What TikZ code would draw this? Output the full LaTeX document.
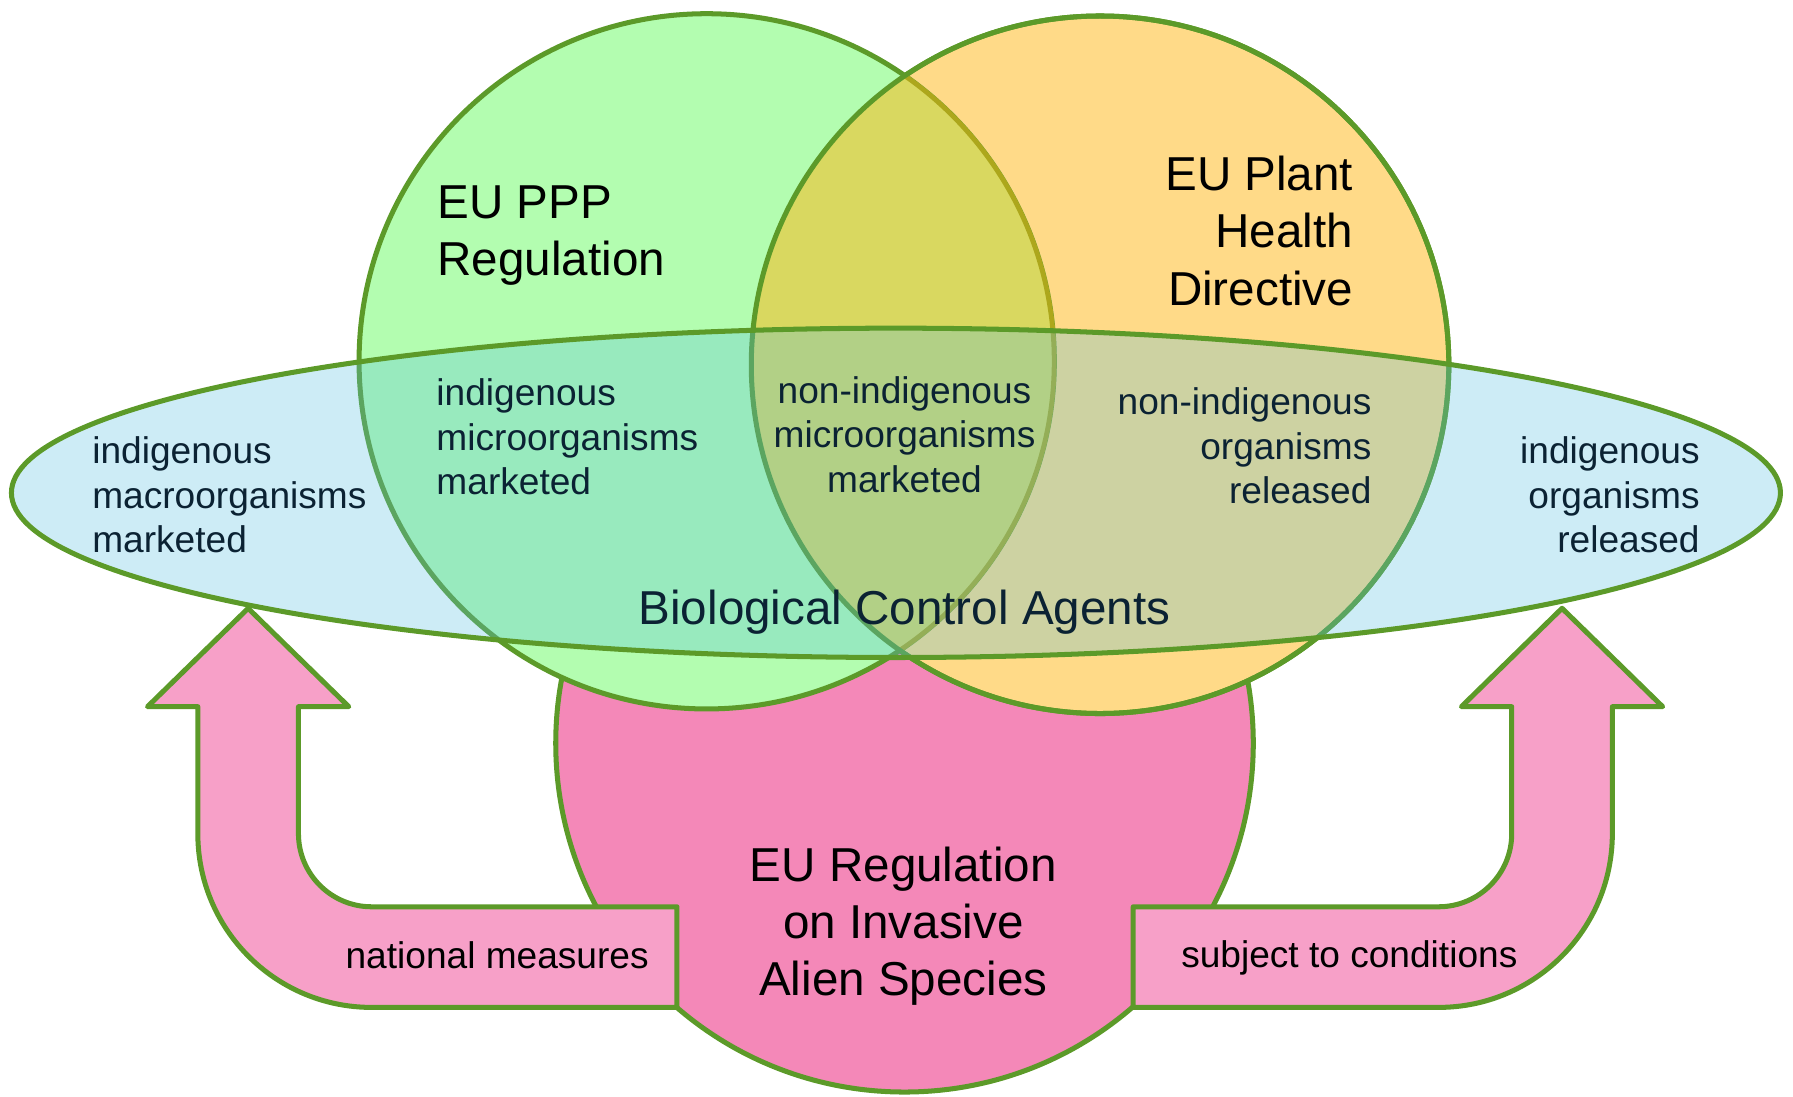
\documentclass[tikz,border=0pt]{standalone}
\usepackage{fontspec}
\setmainfont{Liberation Sans}
\usepackage{xcolor}
\usepackage{tikz}

\definecolor{rim}{HTML}{5C9A29}
\definecolor{pppgreen}{HTML}{B3FDB0}
\definecolor{phorange}{HTML}{FFDA88}
\definecolor{phdeep}{HTML}{FFB511}
\definecolor{iaspink}{HTML}{F488B8}
\definecolor{arrowpink}{HTML}{F7A0C8}
\definecolor{bcablue}{HTML}{5BC0E0}
\definecolor{navy}{HTML}{0B2233}

\begin{document}
\begin{tikzpicture}[
    rimline/.style={draw=rim, line width=1.25pt},
    bigtext/.style={inner sep=0pt, font=\fontsize{11.84}{14.2}\selectfont},
    smalltext/.style={inner sep=0pt, text=navy, font=\fontsize{9.23}{11.1}\selectfont},
    arrowtext/.style={inner sep=0pt, font=\fontsize{9.23}{11.1}\selectfont}]
    \useasboundingbox (0,0) rectangle (15.68,9.59);

    % Invasive species circle (behind)
    \filldraw[rimline, fill=iaspink] (7.91,3.09) circle (3.05);

    % Plant health and PPP circles
    \filldraw[rimline, fill=phorange] (9.62,6.40) circle (3.05);
    \filldraw[rimline, fill=pppgreen] (6.18,6.43) circle (3.04);
    \begin{scope}
        \clip (6.18,6.43) circle (3.06);
        \fill[phdeep, fill opacity=0.5] (9.62,6.40) circle (3.05);
    \end{scope}
    \draw[rimline] (9.62,6.40) circle (3.05);

    % Biological control agents ellipse
    \fill[bcablue, fill opacity=0.3] (7.835,5.28) ellipse [x radius=7.735, y radius=1.44];
    \draw[rimline] (7.835,5.28) ellipse [x radius=7.735, y radius=1.44];

    % Bent arrows
    \filldraw[rimline, fill=arrowpink, line join=round] (2.17,4.27) -- (3.05,3.41) -- (2.61,3.41) -- (2.61,2.30)
        arc[start angle=180, end angle=270, radius=0.64] -- (5.92,1.66) -- (5.92,0.78) -- (3.25,0.78)
        arc[start angle=270, end angle=180, radius=1.52] -- (1.73,3.41) -- (1.29,3.41) -- cycle;
    \filldraw[rimline, fill=arrowpink, line join=round] (13.66,4.27) -- (14.54,3.41) -- (14.10,3.41) -- (14.10,2.30)
        arc[start angle=0, end angle=-90, radius=1.52] -- (9.91,0.78) -- (9.91,1.66) -- (12.58,1.66)
        arc[start angle=270, end angle=360, radius=0.64] -- (13.22,3.41) -- (12.78,3.41) -- cycle;

    % Titles
    \node[bigtext, anchor=west, align=left] (ppp) at (3.82,7.53) {EU PPP\\Regulation};
    \node[bigtext, anchor=east, align=right] (plant) at (11.84,7.57) {EU Plant\\Health\\Directive};
    \node[bigtext, align=center] (ias) at (7.90,1.49) {EU Regulation\\on Invasive\\Alien Species};
    \node[bigtext, text=navy] (bca) at (7.91,4.24) {Biological Control Agents};

    % Region labels
    \node[smalltext, anchor=west, align=left] (macro) at (0.80,5.26) {indigenous\\macroorganisms\\marketed};
    \node[smalltext, anchor=west, align=left] (micro) at (3.81,5.77) {indigenous\\microorganisms\\marketed};
    \node[smalltext, align=center] (nonmicro) at (7.91,5.79) {non-indigenous\\microorganisms\\marketed};
    \node[smalltext, anchor=east, align=right] (nonorg) at (12.00,5.69) {non-indigenous\\organisms\\released};
    \node[smalltext, anchor=east, align=right] (indorg) at (14.87,5.26) {indigenous\\organisms\\released};

    % Arrow labels
    \node[arrowtext, anchor=east] (national) at (5.68,1.24) {national measures};
    \node[arrowtext] (subject) at (11.80,1.21) {subject to conditions};
\end{tikzpicture}
\end{document}
